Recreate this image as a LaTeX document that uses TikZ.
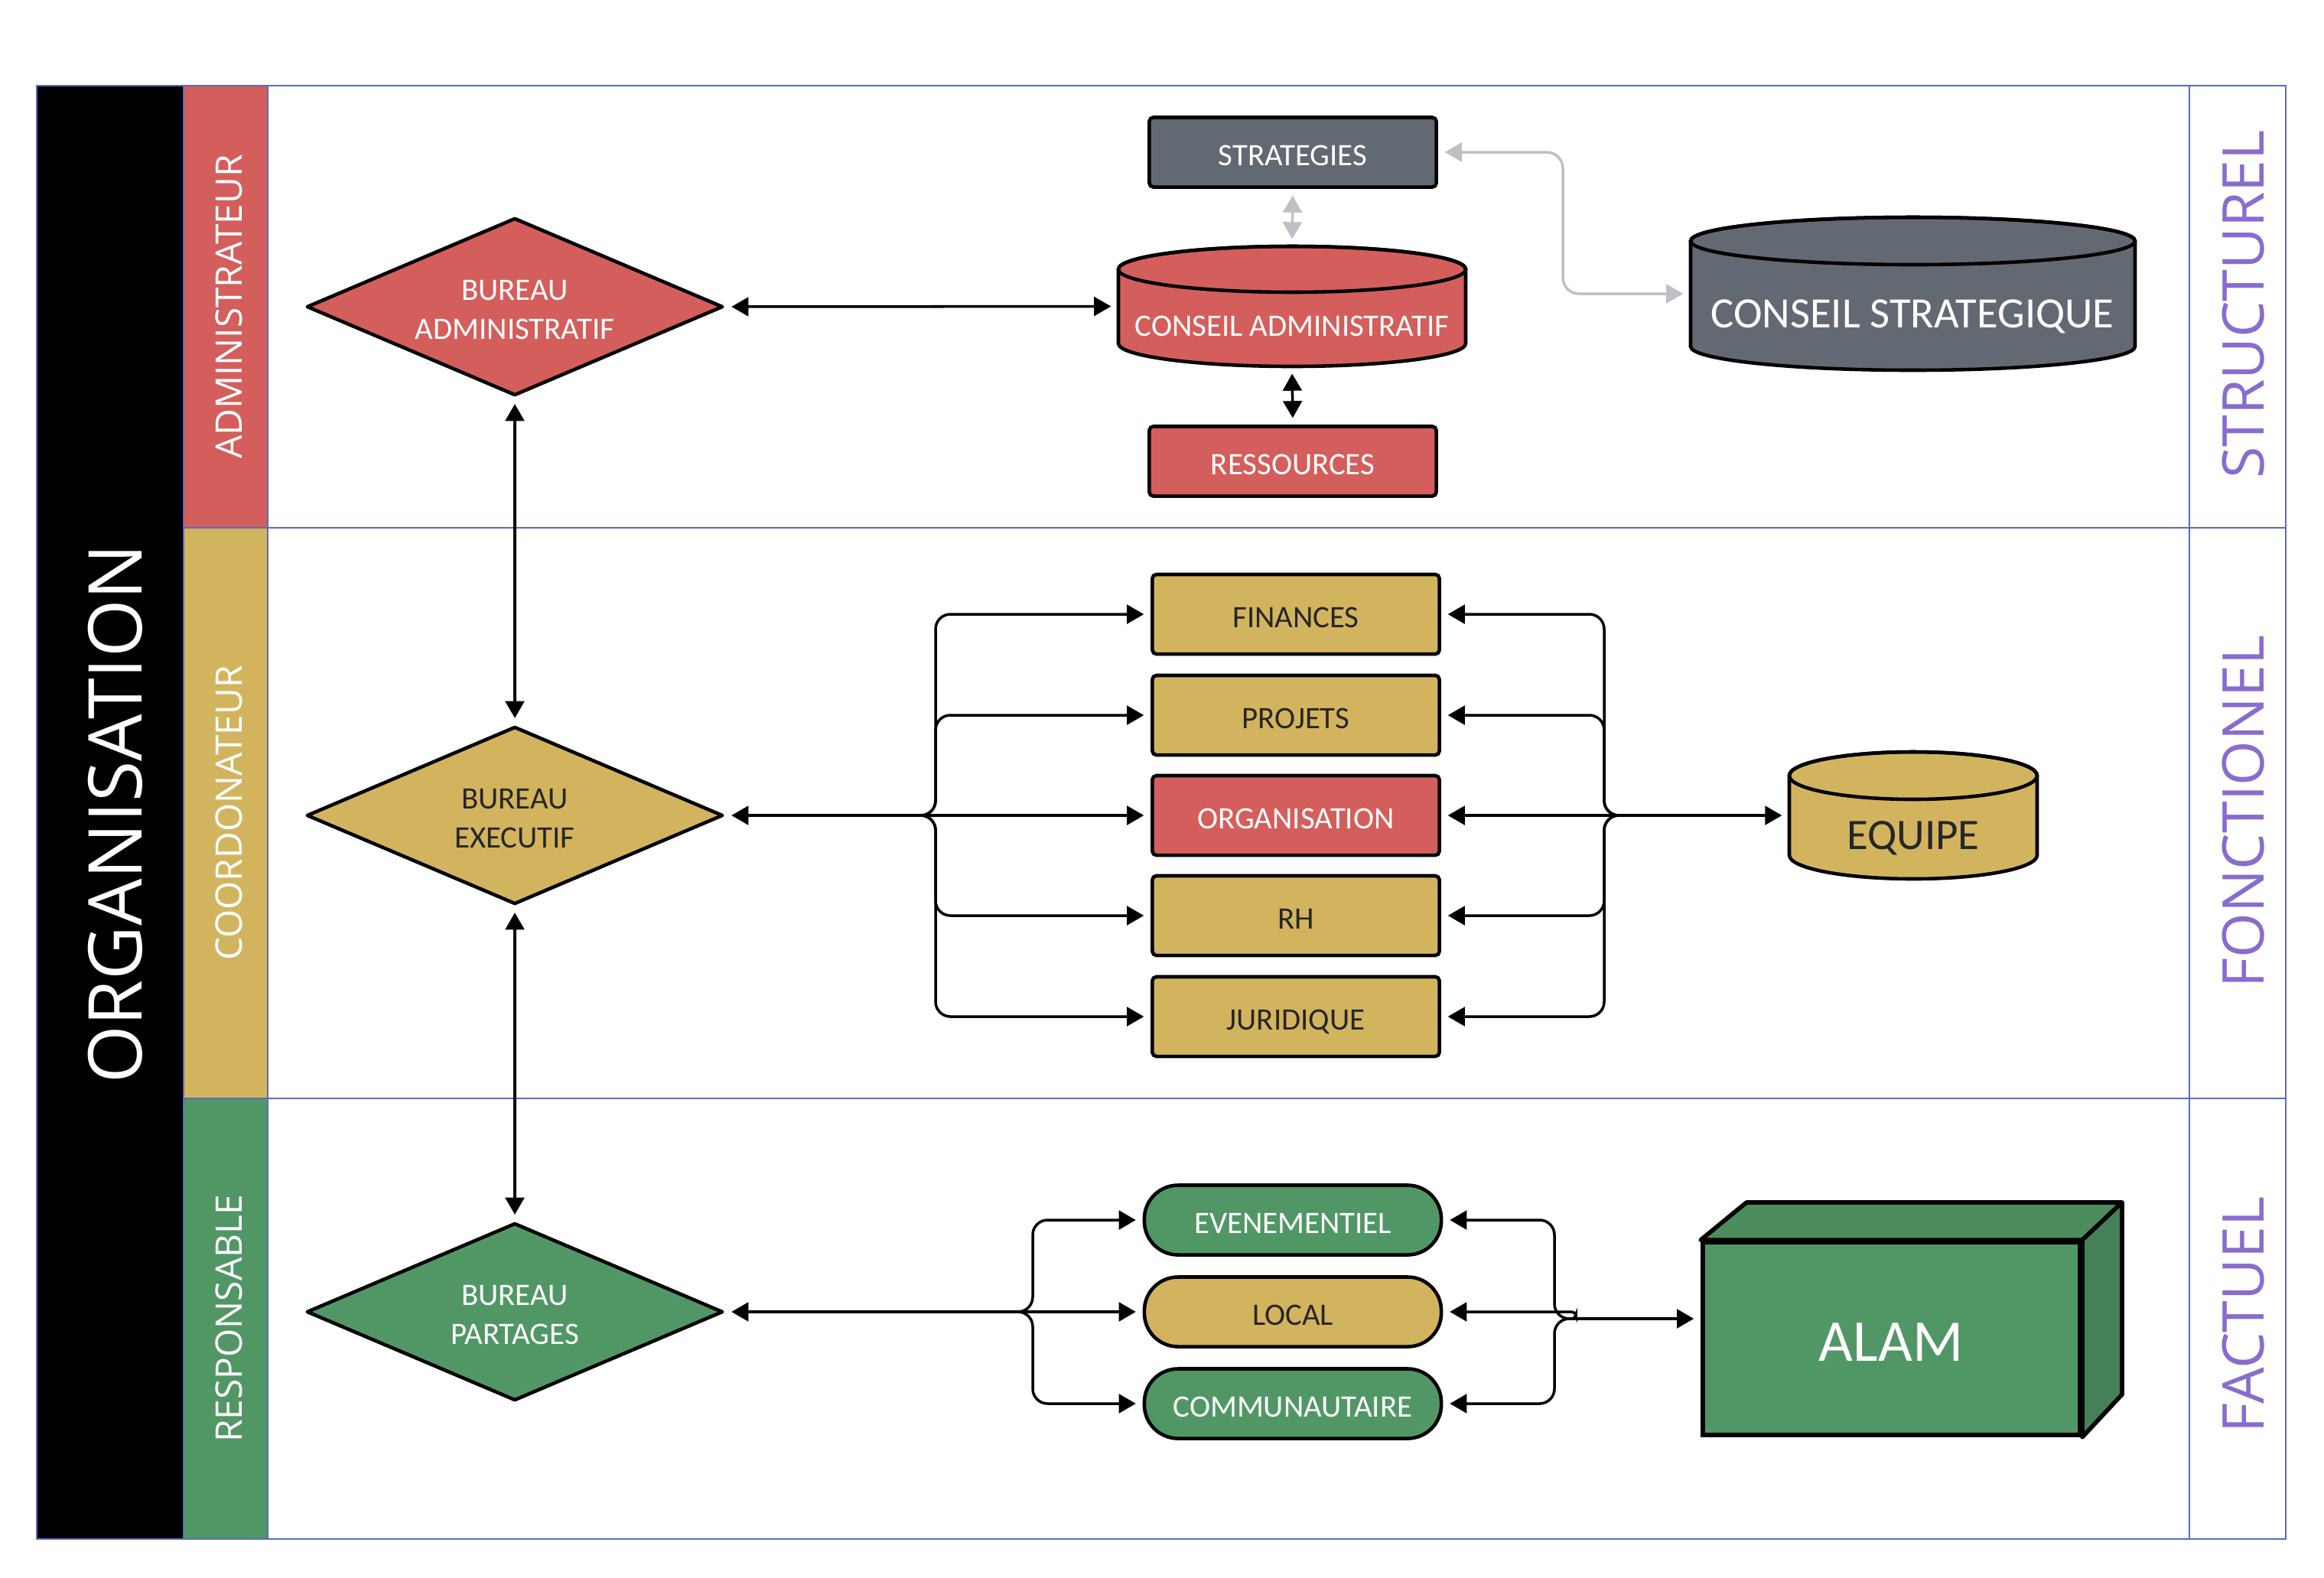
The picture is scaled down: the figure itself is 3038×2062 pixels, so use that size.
\documentclass[tikz,border=0pt]{standalone}
\usepackage{fontspec}
\setmainfont{Carlito}
\newfontfamily\bandfont{Open Sans}
\usetikzlibrary{shapes.geometric,arrows.meta}

\definecolor{rougeC}{HTML}{D45E5B}
\definecolor{orC}{HTML}{D3B45E}
\definecolor{vertC}{HTML}{519765}
\definecolor{grisC}{HTML}{636972}
\definecolor{cadre}{HTML}{5B6CB8}
\definecolor{violetC}{HTML}{896CCE}
\definecolor{lienGris}{HTML}{BDC0C5}
\definecolor{encre}{HTML}{262626}
\definecolor{vertHaut}{HTML}{4D8C5D}
\definecolor{vertCote}{HTML}{468056}

\tikzset{
  cadreL/.style={draw=cadre, line width=0.7pt},
  bande/.style={rotate=90, text=white, inner sep=0pt, font=\bandfont\fontsize{13.6}{16}\selectfont},
  niveau/.style={rotate=90, text=violetC, inner sep=0pt, font=\bandfont\fontsize{21.4}{24}\selectfont},
  petit/.style={font=\fontsize{11.6}{14.7}\selectfont},
  etiq/.style={petit, text height=9.7pt, text depth=0pt},
  carte/.style={etiq, draw=black, line width=1.3pt, rounded corners=1.5pt, inner sep=0pt,
    minimum width=3.75cm, minimum height=1.04cm},
  pilule/.style={etiq, draw=black, line width=1.3pt, rounded corners=0.44cm, inner sep=0pt,
    minimum width=3.88cm, minimum height=0.91cm},
  losange/.style={diamond, aspect=2.34, draw=black, line width=1.3pt, line join=round,
    inner sep=0pt, minimum width=5.44cm, minimum height=2.32cm},
  fleche/.style={line width=1pt, ->, shorten >=2.5pt},
  bifleche/.style={line width=1pt, <->, shorten >=2.5pt, shorten <=2.5pt},
  gbifleche/.style={draw=lienGris, line width=1pt, <->, shorten >=2.5pt, shorten <=2.5pt},
}

% cylinder: centre x, top y, bottom y, half width, ellipse half height, fill
\newcommand{\cylindre}[6]{%
  \filldraw[fill=#6, draw=black, line width=1.3pt]
    ({#1-#4},{#2+#5}) -- ({#1-#4},{#3-#5})
    arc[start angle=180, end angle=360, x radius={#4*0.01cm}, y radius={#5*0.01cm}]
    -- ({#1+#4},{#2+#5})
    arc[start angle=0, end angle=180, x radius={#4*0.01cm}, y radius={#5*0.01cm}] -- cycle;
  \draw[line width=1.3pt] (#1,{#2+#5}) ellipse[x radius={#4*0.01cm}, y radius={#5*0.01cm}];
}

\begin{document}
\begin{tikzpicture}[x=0.01cm, y=-0.01cm, >={Triangle[length=6.3pt,width=7pt]}]
\useasboundingbox (0,0) rectangle (3038,2062);

% swimlanes
\draw[cadreL, fill=black] (48,112) rectangle (240,2012);
\draw[cadreL, fill=rougeC] (240,112) rectangle (350,690);
\draw[cadreL, fill=orC] (240,690) rectangle (350,1436);
\draw[cadreL, fill=vertC] (240,1436) rectangle (350,2012);
\draw[cadreL] (350,112) rectangle (2862,690);
\draw[cadreL] (350,690) rectangle (2862,1436);
\draw[cadreL] (350,1436) rectangle (2862,2012);
\draw[cadreL] (2862,112) rectangle (2988,690);
\draw[cadreL] (2862,690) rectangle (2988,1436);
\draw[cadreL] (2862,1436) rectangle (2988,2012);

% lane titles
\node[rotate=90, text=white, inner sep=0pt, font=\bandfont\fontsize{27.6}{30}\selectfont] (titre) at (151,1064) {ORGANISATION};
\node[bande] (adm) at (299,401) {ADMINISTRATEUR};
\node[bande] (coo) at (299,1063) {COORDONATEUR};
\node[bande] (res) at (299,1724) {RESPONSABLE};
\node[niveau] (str) at (2933,398) {STRUCTUREL};
\node[niveau] (fon) at (2933,1061) {FONCTIONEL};
\node[niveau] (fac) at (2933,1719) {FACTUEL};

% ---- administrative lane
\node[losange, fill=rougeC] (badm) at (673,401) {};
\node[petit, align=center, text=white] (badmT) at (673,405) {BUREAU\\ADMINISTRATIF};
\node[carte, fill=grisC, text=white, minimum height=0.91cm] (strat) at (1690,199) {STRATEGIES};
\node[carte, fill=rougeC, text=white, minimum height=0.91cm] (ress) at (1690,603) {RESSOURCES};

\cylindre{1689}{322}{479}{227}{30}{rougeC}
\node[inner sep=0pt, minimum width=4.54cm, minimum height=1.57cm] (ca) at (1689,400.5) {};
\node[petit, text=white] (caT) at (1689,426) {CONSEIL ADMINISTRATIF};

\cylindre{2500.5}{284}{484}{290.5}{31}{grisC}
\node[inner sep=0pt, minimum width=5.81cm, minimum height=2cm] (cst) at (2500.5,384) {};
\node[text=white, font=\fontsize{16.1}{19}\selectfont] (cstT) at (2500,414) {CONSEIL STRATEGIQUE};

% ---- coordination lane
\node[losange, fill=orC] (bexe) at (673,1066) {};
\node[petit, align=center, text=encre] (bexeT) at (673,1070) {BUREAU\\EXECUTIF};
\node[carte, fill=orC, text=encre] (fin) at (1694,803) {FINANCES};
\node[carte, fill=orC, text=encre] (proj) at (1694,935) {PROJETS};
\node[carte, fill=rougeC, text=white] (org) at (1694,1066) {ORGANISATION};
\node[carte, fill=orC, text=encre] (rh) at (1694,1197) {RH};
\node[carte, fill=orC, text=encre] (jur) at (1694,1329) {JURIDIQUE};

\cylindre{2501}{983}{1149}{162}{31}{orC}
\node[inner sep=0pt, minimum width=3.24cm, minimum height=1.66cm] (equipe) at (2501,1066) {};
\node[text=encre, font=\fontsize{16.2}{19}\selectfont] (equipeT) at (2501,1096) {EQUIPE};

% ---- responsible lane
\node[losange, fill=vertC] (bpar) at (673,1715) {};
\node[petit, align=center, text=white] (bparT) at (673,1719) {BUREAU\\PARTAGES};
\node[pilule, fill=vertC, text=white] (even) at (1690,1595) {EVENEMENTIEL};
\node[pilule, fill=orC, text=encre] (local) at (1690,1715) {LOCAL};
\node[pilule, fill=vertC, text=white] (comm) at (1690,1835) {COMMUNAUTAIRE};

\node[draw=black, line width=1.6pt, fill=vertC, inner sep=0pt,
      minimum width=4.93cm, minimum height=2.52cm] (alam) at (2472.5,1750) {};
\filldraw[fill=vertHaut, draw=black, line width=1.6pt, line join=round]
  (alam.north west) -- (2283,1572) -- (2774,1572) -- (alam.north east) -- cycle;
\filldraw[fill=vertCote, draw=black, line width=1.6pt, line join=round]
  (alam.north east) -- (2774,1572) -- (2774,1823) -- (alam.south east) -- cycle;
\node[text=white, font=\fontsize{22}{26}\selectfont] (alamT) at (2472,1755) {ALAM};

% ---- connectors, administrative lane
\draw[bifleche] (badm.east) -- (ca.west);
\draw[gbifleche] (strat.south) -- (ca.north);
\coordinate (gx) at (2043,384);
\draw[gbifleche, rounded corners=6pt] (strat.east) -| (gx |- cst.west) -- (cst.west);
\draw[bifleche] (ca.south) -- (ress.north);

% ---- vertical links between bureaus
\draw[bifleche] (badm.south) -- (bexe.north);
\draw[bifleche] (bexe.south) -- (bpar.north);

% ---- connectors, coordination lane
\coordinate (lj) at (1200,1066);
\coordinate (lx) at (1223,1066);
\foreach \t in {fin,proj,rh,jur}
  \draw[fleche, rounded corners=5.5pt] (lj) -| (lx |- \t.west) -- (\t.west);
\draw[bifleche] (bexe.east) -- (org.west);
\coordinate (rj) at (2120,1066);
\coordinate (rx) at (2097,1066);
\foreach \t in {fin,proj,rh,jur}
  \draw[fleche, rounded corners=5.5pt] (rj) -| (rx |- \t.east) -- (\t.east);
\draw[bifleche] (org.east) -- (equipe.west);

% ---- connectors, responsible lane
\coordinate (lj2) at (1327,1715);
\coordinate (lx2) at (1350,1715);
\foreach \t in {even,comm}
  \draw[fleche, rounded corners=5.5pt] (lj2) -| (lx2 |- \t.west) -- (\t.west);
\draw[bifleche] (bpar.east) -- (local.west);
\coordinate (rj2) at (2052,1724);
\coordinate (rx2) at (2032,1724);
\foreach \t in {even,comm}
  \draw[fleche, rounded corners=5.5pt] (rj2) -| (rx2 |- \t.east) -- (\t.east);
\coordinate (lh) at (2060,1715);
\draw[fleche, rounded corners=1.5pt] (rj2) -| (lh) -- (local.east);
\draw[fleche] (rj2) -- (rj2 -| alam.west);
\end{tikzpicture}
\end{document}
